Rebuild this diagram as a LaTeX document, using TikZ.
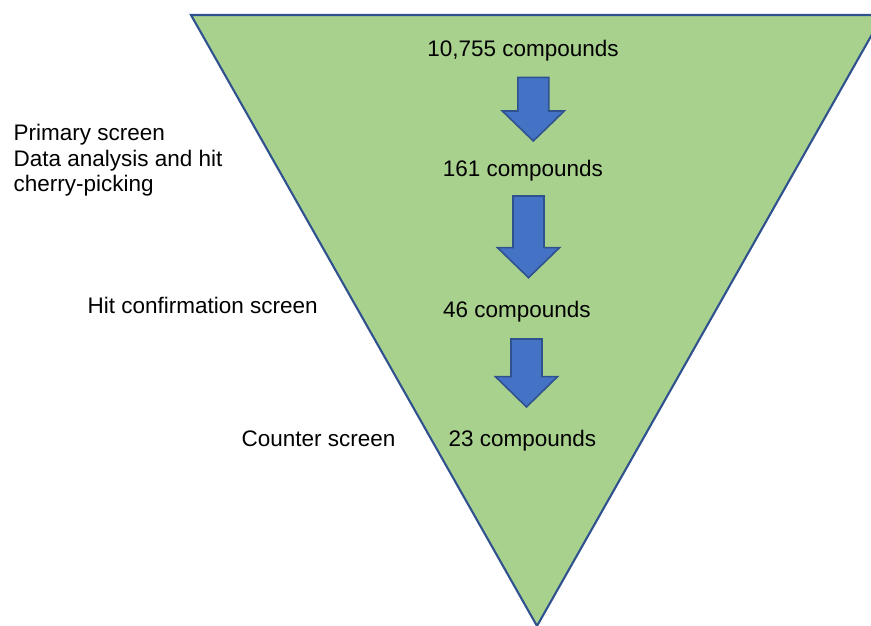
\documentclass[tikz,border=0pt]{standalone}
\usepackage{fontspec}
\setmainfont{Liberation Sans}
\usepackage{tikz}
\definecolor{funnelgreen}{HTML}{A9D18E}
\definecolor{edgeblue}{HTML}{2F528F}
\definecolor{arrowblue}{HTML}{4472C4}
% block arrow pointing down: (centre x, shaft top, head base, tip)
\def\downblock(#1,#2,#3,#4){\draw[line width=0.45pt, color=edgeblue, fill=arrowblue]
	(#1-0.155, #2) -- (#1+0.155, #2) -- (#1+0.155, #3) -- (#1+0.31, #3) -- (#1, #4)
	-- (#1-0.31, #3) -- (#1-0.155, #3) -- cycle;}

\begin{document}
\begin{tikzpicture}[every node/.style={font=\fontsize{6.4}{7.3}\selectfont, inner sep=0pt}]
			%%%%% START %%%%%
			
			\useasboundingbox (0, 0) rectangle (8.71, 6.26);
			
			\begin{scope}
				\clip (0, 0) rectangle (8.71, 6.26);
				\draw[line width=0.6pt, color=edgeblue, fill=funnelgreen] (1.91, 6.11) -- (8.83, 6.11) -- (5.37, 0) -- cycle;
			\end{scope}
			
			\downblock(5.333, 5.487, 5.15, 4.85)
			\downblock(5.285, 4.30, 3.783, 3.483)
			\downblock(5.265, 2.87, 2.493, 2.19)
			
			\node[anchor=base] (n10755) at (5.23, 5.693) {10,755 compounds};
			\node[anchor=base] (n161) at (5.23, 4.493) {161 compounds};
			\node[anchor=base] (n46) at (5.17, 3.083) {46 compounds};
			\node[anchor=base] (n23) at (5.225, 1.793) {23 compounds};
			
			% base of a multi-line node sits on its last line
			\node[anchor=base west, align=left] (primary) at (0.13, 4.34) {Primary screen\\Data analysis and hit\\cherry-picking};
			\node[anchor=base west] (confirm) at (0.87, 3.12) {Hit confirmation screen};
			\node[anchor=base west] (counter) at (2.41, 1.793) {Counter screen};
			
			%%%%% END %%%%%
		\end{tikzpicture}
\end{document}
